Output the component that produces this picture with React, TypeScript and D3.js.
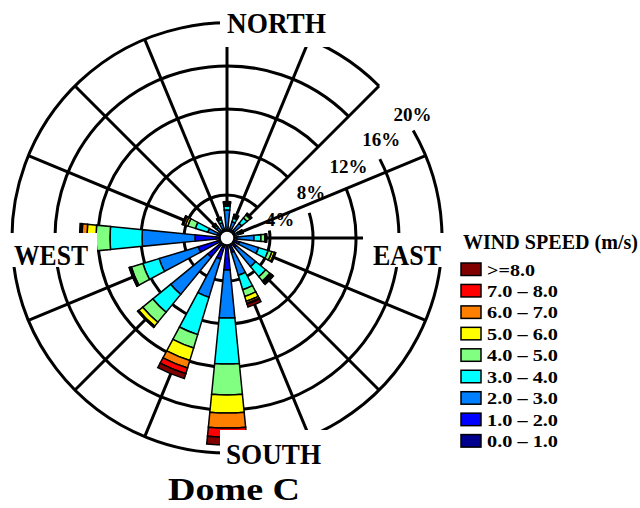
import React from 'react';
import * as d3 from 'd3';

// ---------- DATA ----------
const directions = ['N', 'NNE', 'NE', 'ENE', 'E', 'ESE', 'SE', 'SSE', 'S', 'SSW', 'SW', 'WSW', 'W', 'WNW', 'NW', 'NNW'];
const speedKeys = ['s0', 's1', 's2', 's3', 's4', 's5', 's6', 's7', 's8'];
const speedLabels = ['0.0 – 1.0', '1.0 – 2.0', '2.0 – 3.0', '3.0 – 4.0', '4.0 – 5.0', '5.0 – 6.0', '6.0 – 7.0', '7.0 – 8.0', '>=8.0'];
const speedColors = ['#00008f', '#0000ff', '#0080ff', '#00ffff', '#80ff80', '#ffff00', '#ff8000', '#ff0000', '#800000'];

// frequency (%) per direction for each speed class
const speed0to1 = [0.28, 0.28, 0.28, 0.28, 0.28, 0.28, 0.28, 0.28, 0.47, 0.37, 0.37, 0.28, 0.28, 0.28, 0.28, 0.28];
const speed1to2 = [0.47, 0.56, 0.56, 0.47, 0.65, 0.93, 0.84, 1.12, 2.51, 1.67, 1.95, 2.51, 2.70, 0.65, 0.47, 0.56];
const speed2to3 = [1.86, 0.74, 0.93, 0.37, 1.58, 1.86, 2.33, 2.23, 4.47, 3.72, 4.47, 3.81, 4.93, 0.93, 0.56, 0.65];
const speed3to4 = [0.37, 0.37, 0.65, 0.19, 0.65, 0.93, 1.21, 1.40, 4.28, 3.63, 2.14, 1.58, 2.98, 1.21, 0.19, 0.28];
const speed4to5 = [0.09, 0.14, 0.37, 0.14, 0.37, 0.37, 0.51, 0.65, 2.88, 1.30, 1.21, 1.12, 1.30, 0.74, 0.09, 0.09];
const speed5to6 = [0.09, 0.09, 0.09, 0.05, 0.09, 0.23, 0.14, 0.47, 1.67, 1.21, 0.47, 0.14, 0.84, 0.23, 0.05, 0.05];
const speed6to7 = [0.09, 0.05, 0.05, 0.03, 0.03, 0.07, 0.09, 0.19, 1.40, 0.74, 0.09, 0.03, 0.47, 0.19, 0.05, 0.05];
const speed7to8 = [0.05, 0.03, 0.02, 0.02, 0.02, 0.03, 0.05, 0.09, 0.84, 0.56, 0.03, 0.02, 0.09, 0.09, 0.03, 0.03];
const speed8up = [0.09, 0.05, 0.03, 0.03, 0.05, 0.04, 0.14, 0.28, 0.74, 0.47, 0.03, 0.02, 0.14, 0.05, 0.03, 0.03];

const ringTicks = [4, 8, 12, 16, 20];
const ringLabels = ['4%', '8%', '12%', '16%', '20%'];
const compassLabels = ['NORTH', 'EAST', 'SOUTH', 'WEST'];
const legendTitle = 'WIND SPEED (m/s)';
const chartTitle = 'Dome C';

// ---------- LAYOUT ----------
const W = 640;
const H = 508;
const cx = 227;
const cy = 238;
const R = 215;
const FONT = '"Liberation Serif", "Times New Roman", Times, serif';
const rad = (deg: number) => (deg * Math.PI) / 180;

// ring gaps (bearing, deg) where the percentage labels sit
const ringGapStart = 45;
const ringGapEnd = [80, 73, 67, 62.7, 60];
const ringLabelBearing = [71, 61.5, 59.5, 57.5, 56.3];
const ringLabelOffset = [13, 9.5, 12, 11, 8];

export default function App() {
  const rScale = d3.scaleLinear().domain([0, 20]).range([0, R]);
  const aScale = d3.scaleLinear().domain([0, directions.length]).range([0, 2 * Math.PI]);
  const halfW = Math.PI / directions.length / 2; // 11.25° wide wedges

  const series = [speed0to1, speed1to2, speed2to3, speed3to4, speed4to5, speed5to6, speed6to7, speed7to8, speed8up];
  const table = directions.map((d, i) => {
    const row: any = { dir: d, idx: i };
    speedKeys.forEach((k, j) => (row[k] = series[j][i]));
    return row;
  });
  const stacked = d3.stack<any>().keys(speedKeys)(table);

  const arcGen = d3
    .arc<any>()
    .innerRadius((d) => rScale(d[0]))
    .outerRadius((d) => rScale(d[1]))
    .startAngle((d) => aScale(d.data.idx) - halfW)
    .endAngle((d) => aScale(d.data.idx) + halfW);

  const ringPath = (v: number, i: number) => {
    const rr = rScale(v);
    const a0 = rad(ringGapEnd[i] - 90);
    const a1 = rad(ringGapStart + 360 - 90);
    const p = d3.path();
    p.moveTo(rr * Math.cos(a0), rr * Math.sin(a0));
    p.arc(0, 0, rr, a0, a1, false);
    return p.toString();
  };

  // compass label boxes (white) and text
  const compass = [
    { text: compassLabels[0], box: [cx - 7, 0, 118, cy - 191], tx: 276.5, ty: 33, len: 99 },
    { text: compassLabels[1], box: [363, 233, 92, 34], tx: 407, ty: 265, len: 68 },
    { text: compassLabels[2], box: [cx - 7, 430, 118, 50], tx: 273.5, ty: 464, len: 95 },
    { text: compassLabels[3], box: [0, 233, 97, 34], tx: 51, ty: 265, len: 74 },
  ];

  const legendX = 461;
  const legendY = 263;
  const legendStep = 21.45;
  const legendOrder = d3.range(speedKeys.length).reverse();

  return (
    <svg
      width={W}
      height={H}
      viewBox={`0 0 ${W} ${H}`}
      style={{ position: 'absolute', left: 0, top: 0, background: '#fff' }}
    >
      <rect x={0} y={0} width={W} height={H} fill="#fff" />
      <g transform={`translate(${cx},${cy})`}>
        {ringTicks.map((v, i) => (
          <path key={'ring' + v} d={ringPath(v, i)} fill="none" stroke="#000" strokeWidth={3} />
        ))}
        {directions.map((d, i) => {
          const a = aScale(i);
          return (
            <line
              key={'spoke' + d}
              x1={0}
              y1={0}
              x2={R * Math.sin(a)}
              y2={-R * Math.cos(a)}
              stroke="#000"
              strokeWidth={3}
            />
          );
        })}
        {stacked.map((layer, j) => (
          <g key={layer.key}>
            {layer.map((seg: any) => (
              <path
                key={layer.key + seg.data.dir}
                d={arcGen(seg) || ''}
                fill={speedColors[j]}
                stroke="#000"
                strokeWidth={1.5}
                strokeLinejoin="miter"
              />
            ))}
          </g>
        ))}
        <circle r={7} fill="#fff" stroke="#000" strokeWidth={1.5} />
        {ringTicks.map((v, i) => {
          const rr = rScale(v) + ringLabelOffset[i];
          const b = rad(ringLabelBearing[i]);
          return (
            <text
              key={'rl' + v}
              x={rr * Math.sin(b)}
              y={-rr * Math.cos(b) + 6.5}
              textAnchor="middle"
              fontFamily={FONT}
              fontWeight="bold"
              fontSize={19}
            >
              {ringLabels[i]}
            </text>
          );
        })}
      </g>

      {compass.map((c) => (
        <g key={c.text}>
          <rect x={c.box[0]} y={c.box[1]} width={c.box[2]} height={c.box[3]} fill="#fff" />
          <text
            x={c.tx}
            y={c.ty}
            textAnchor="middle"
            fontFamily={FONT}
            fontWeight="bold"
            fontSize={29}
            textLength={c.len}
            lengthAdjust="spacingAndGlyphs"
          >
            {c.text}
          </text>
        </g>
      ))}

      <text
        x={463}
        y={249}
        fontFamily={FONT}
        fontWeight="bold"
        fontSize={20}
        textLength={175}
        lengthAdjust="spacingAndGlyphs"
      >
        {legendTitle}
      </text>
      {legendOrder.map((k, row) => {
        const y = legendY + row * legendStep;
        return (
          <g key={'lg' + k}>
            <rect x={legendX} y={y} width={20} height={12.5} fill={speedColors[k]} stroke="#000" strokeWidth={1.5} />
            <text
              x={487}
              y={y + 12.5}
              fontFamily={FONT}
              fontWeight="bold"
              fontSize={17}
              textLength={k === 8 ? 48 : 71}
              lengthAdjust="spacingAndGlyphs"
            >
              {speedLabels[k]}
            </text>
          </g>
        );
      })}

      <text
        x={234}
        y={500}
        textAnchor="middle"
        fontFamily={FONT}
        fontWeight="bold"
        fontSize={32}
        textLength={132}
        lengthAdjust="spacingAndGlyphs"
      >
        {chartTitle}
      </text>
    </svg>
  );
}
